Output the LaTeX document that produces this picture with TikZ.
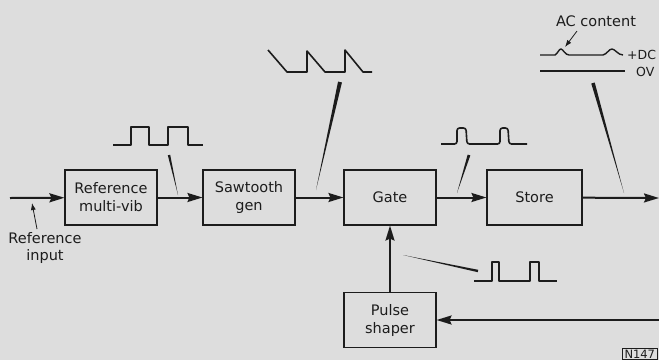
\documentclass[tikz,border=0pt]{standalone}
\usepackage{fontspec}
\setmainfont{DejaVu Sans}
\usetikzlibrary{arrows.meta,calc}
\definecolor{bg}{RGB}{221,221,221}
\definecolor{ink}{RGB}{28,28,28}
\tikzset{
  blk/.style={draw=ink, line width=1.1pt, minimum width=92pt, minimum height=55pt, align=center, font=\fontsize{14.5}{18}\selectfont, text=ink, inner sep=0pt},
  sig/.style={draw=ink, line width=2pt, -{Stealth[length=15pt,width=9pt,inset=2pt]}},
  wave/.style={draw=ink, line width=1.6pt, line join=round},
  lbl/.style={text=ink, font=\fontsize{14.5}{17}\selectfont, align=center, inner sep=0pt},
  small/.style={text=ink, font=\fontsize{12.5}{13}\selectfont, inner sep=0pt},
  thin/.style={draw=ink, line width=0.8pt, -{Latex[length=7pt,width=5pt]}}
}
\newcommand{\taper}[3]{\fill[ink] ($(#1)!#3!90:(#2)$) -- ($(#1)!#3!-90:(#2)$) -- (#2) -- cycle;}
\begin{document}
\begin{tikzpicture}[x=1pt,y=-1pt]
\fill[bg] (0,0) rectangle (659,360);
\useasboundingbox (0,0) rectangle (659,360);
\clip (0,0) rectangle (659,360);

% blocks
\node[blk] (ref) at (111,197.5) {Reference\\multi-vib};
\node[blk] (saw) at (249,197.5) {Sawtooth\\gen};
\node[blk] (gate) at (390,197.5) {Gate};
\node[blk, minimum width=95pt] (store) at (534.5,197.5) {Store};
\node[blk] (pulse) at (390,320) {Pulse\\shaper};

% coordinates
\coordinate (in) at (10,198);
\coordinate (out) at (659,198);
\coordinate (fb) at (659,320);

% main signal path
\draw[sig] (in) -- (ref);
\draw[sig] (ref) -- (saw);
\draw[sig] (saw) -- (gate);
\draw[sig] (gate) -- (store);
\draw[sig] (store) -- (out);
\draw[sig] (fb) -- (pulse);
\draw[sig] (pulse) -- (gate);

% reference input label
\node[lbl] (rin) at (45,248) {Reference\\input};
\coordinate (rinA) at (37,229);
\coordinate (rinB) at (32,203);
\draw[thin] (rinA) -- (rinB);

% waveform 1 (square)
\draw[wave] (113,145) -- (131,145) -- (131,127) -- (149,127) -- (149,145) -- (168,145) -- (168,127) -- (188,127) -- (188,145) -- (203,145);
\coordinate (p1a) at (169,155);
\coordinate (p1b) at (178,195);
\taper{p1a}{p1b}{1.2pt}

% waveform 2 (sawtooth)
\draw[wave] (268,50) -- (287,72) -- (307,72) -- (307,51) -- (325,72) -- (345,72) -- (345,50) -- (363,72) -- (372,72);
\coordinate (p2a) at (340,82);
\coordinate (p2b) at (316,190);
\taper{p2a}{p2b}{2pt}

% waveform 3 (rounded pulses)
\draw[wave, rounded corners=2.5pt] (441,144) -- (457,144) -- (457,128) -- (466,128) -- (467,144) -- (500,144) -- (500,128) -- (508,128) -- (509,144) -- (527,144);
\coordinate (p3a) at (469,155);
\coordinate (p3b) at (457,193);
\taper{p3a}{p3b}{1.4pt}

% waveform 4 (AC content on DC)
\node[lbl] (ac) at (596,21) {AC content};
\coordinate (acA) at (577,31);
\coordinate (acB) at (565,47);
\draw[thin] (acA) -- (acB);
\draw[wave, line width=1.4pt] (540,55) -- (555,55) .. controls (558,53) and (559,49) .. (561,49) .. controls (563,49) and (565,55) .. (569,55) -- (603,55) .. controls (607,54) and (609,49) .. (612,49) .. controls (615,49) and (618,55) .. (623,55);
\draw[wave, line width=1.6pt] (540,71) -- (625,71);
\node[small, anchor=west] (dc) at (627,55) {+DC};
\node[small, anchor=west] (ov) at (636,72) {OV};
\coordinate (p4a) at (593,83);
\coordinate (p4b) at (624,193);
\taper{p4a}{p4b}{1.8pt}

% waveform 5 (pulses near gate)
\draw[wave] (474,281) -- (492,281) -- (492,262) -- (499,262) -- (499,281) -- (530,281) -- (530,262) -- (539,262) -- (539,281) -- (557,281);
\coordinate (p5a) at (478,271);
\coordinate (p5b) at (403,255);
\taper{p5a}{p5b}{1.2pt}

% figure number
\node[draw=ink, line width=0.9pt, anchor=south east, inner xsep=2.5pt, inner ysep=1pt, text=ink, font=\fontsize{11.5}{12}\selectfont] (fig) at (658,359.5) {N147};
\end{tikzpicture}
\end{document}
